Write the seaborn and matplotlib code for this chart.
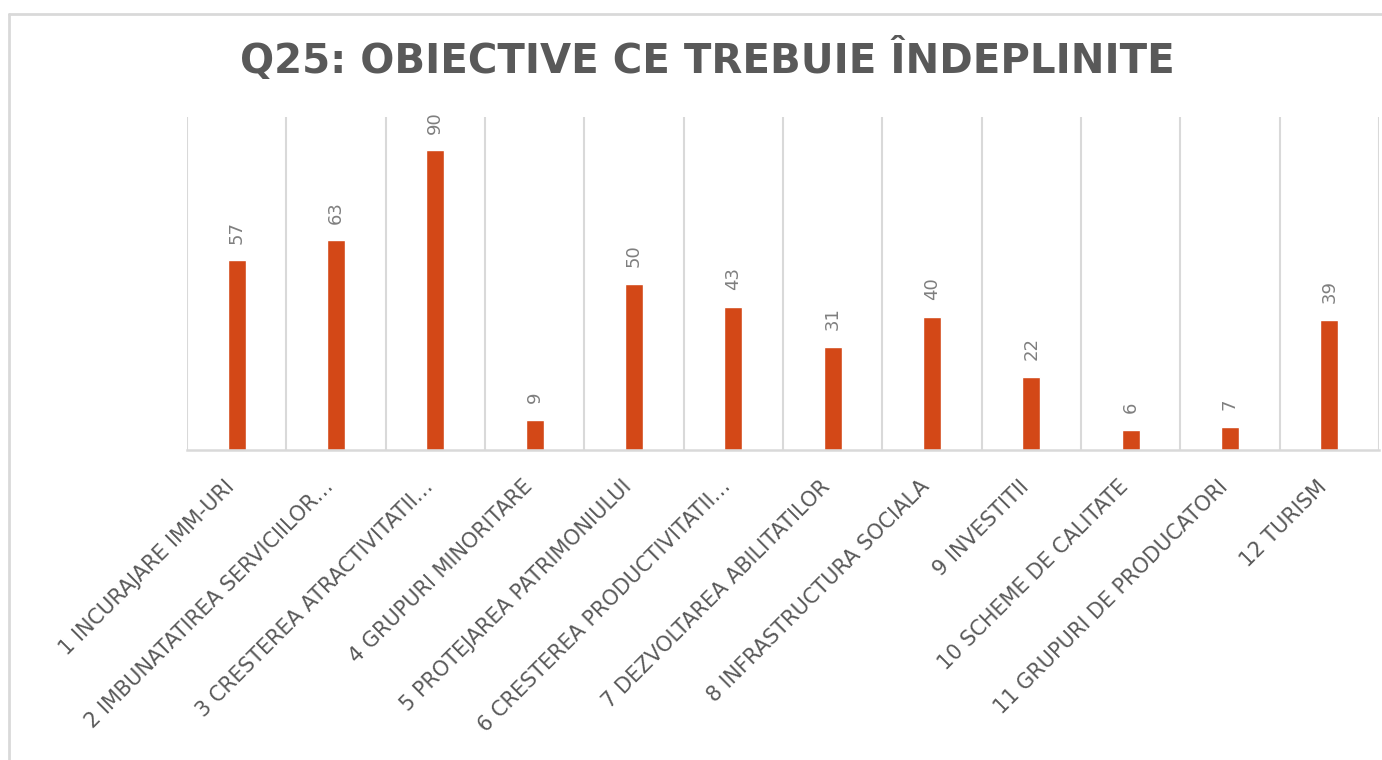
import matplotlib
matplotlib.use("Agg")
import matplotlib.pyplot as plt
import matplotlib.transforms as mtransforms
import seaborn as sns
import numpy as np
import pandas as pd
from matplotlib.lines import Line2D

# data
categories = [
    "1 INCURAJARE IMM-URI",
    "2 IMBUNATATIREA SERVICIILOR…",
    "3 CRESTEREA ATRACTIVITATII…",
    "4 GRUPURI MINORITARE",
    "5 PROTEJAREA PATRIMONIULUI",
    "6 CRESTEREA PRODUCTIVITATII…",
    "7 DEZVOLTAREA ABILITATILOR",
    "8 INFRASTRUCTURA SOCIALA",
    "9 INVESTITII",
    "10 SCHEME DE CALITATE",
    "11 GRUPURI DE PRODUCATORI",
    "12 TURISM",
]
values = [57, 63, 90, 9, 50, 43, 31, 40, 22, 6, 7, 39]
title = "Q25: OBIECTIVE CE TREBUIE ÎNDEPLINITE"

bar_color = "#D34817"
grid_color = "#D9D9D9"
text_color = "#595959"
label_color = "#7F7F7F"

df = pd.DataFrame({"cat": categories, "val": values})

sns.set_theme(style="white")
plt.rcParams["font.family"] = ["DejaVu Sans"]

fig = plt.figure(figsize=(13.82, 7.6), dpi=100)
ax = fig.add_axes([187 / 1382, 1 - 450 / 760, (1379 - 187) / 1382, (450 - 117) / 760])

sns.barplot(data=df, x="cat", y="val", color=bar_color, width=0.18,
            saturation=1, ax=ax)

ax.set_xlim(-0.5, len(categories) - 0.5)
ax.set_ylim(0, 100)

# vertical separators between categories
ax.set_xticks(np.arange(-0.5, len(categories), 1), minor=True)
ax.grid(which="minor", axis="x", color=grid_color, linewidth=1.5)
ax.grid(which="major", visible=False)
ax.tick_params(which="both", length=0)
ax.set_yticks([])

for side in ["top", "right", "left"]:
    ax.spines[side].set_visible(False)
ax.spines["bottom"].set_color(grid_color)
ax.spines["bottom"].set_linewidth(1.8)

ax.set_xlabel("")
ax.set_ylabel("")
ax.tick_params(axis="x", which="major", pad=19, labelsize=15, labelcolor=text_color)
plt.setp(ax.get_xticklabels(), rotation=45, ha="right", va="top",
         rotation_mode="anchor")
# nudge the rotated labels a little to the left, like the original
shift = mtransforms.ScaledTranslation(-9 / 72, 0, fig.dpi_scale_trans)
for lbl in ax.get_xticklabels():
    lbl.set_transform(lbl.get_transform() + shift)

ax.bar_label(ax.containers[0], labels=[str(v) for v in values], rotation=90,
             padding=12, fontsize=13, color=label_color)

fig.text(707 / 1382, 1 - 60 / 760, title, ha="center", va="center",
         fontsize=29, fontweight="bold", color=text_color)

# outer chart frame (left and top edges visible)
fig.add_artist(Line2D([8.5 / 1382, 8.5 / 1382], [0, 1 - 14 / 760],
                      color=grid_color, linewidth=2, transform=fig.transFigure))
fig.add_artist(Line2D([8.5 / 1382, 1], [1 - 14 / 760, 1 - 14 / 760],
                      color=grid_color, linewidth=2, transform=fig.transFigure))

fig.savefig("out.png", dpi=100)
